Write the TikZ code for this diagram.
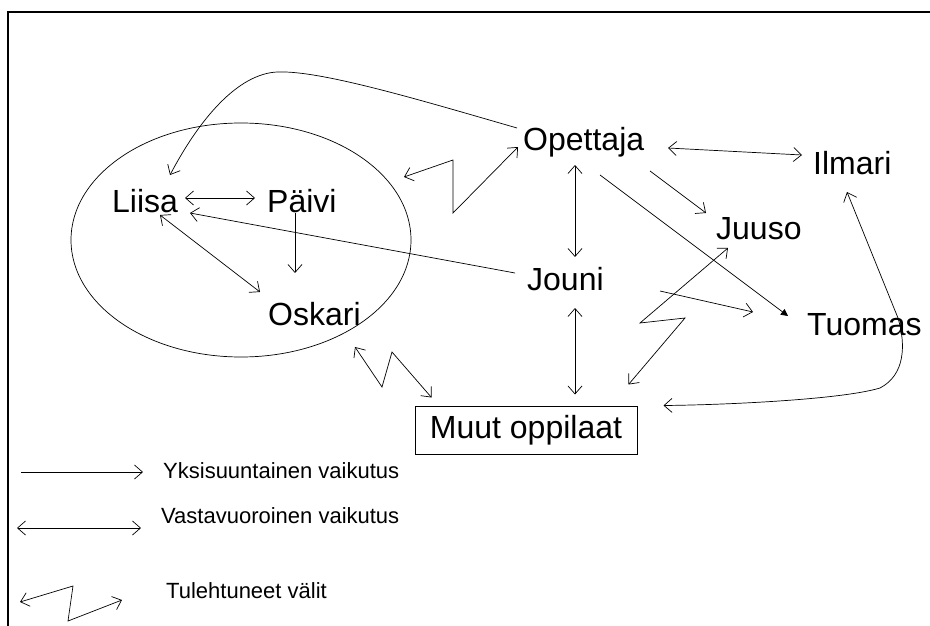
\documentclass[tikz,border=0pt]{standalone}
\usepackage{fontspec}
\setmainfont{Liberation Sans}
\usetikzlibrary{arrows.meta,calc}
\begin{document}
\begin{tikzpicture}[x=1pt,y=-1pt,
  lbl/.style={anchor=base west,inner sep=0pt,font=\fontsize{32}{38}\selectfont},
  leg/.style={anchor=base west,inner sep=0pt,font=\fontsize{22}{26}\selectfont},
  con/.style={line width=0.7pt},
  >={Straight Barb[length=8pt,width=14pt]}]
\useasboundingbox (0,0) rectangle (930,626);
% frame
\draw[line width=1.4pt] (930,12) -- (8,12) -- (8,626);
% group ellipse
\draw[con] (241,240) ellipse [x radius=170, y radius=117];
% nodes
\node[lbl] (op) at (523,150) {Opettaja};
\node[lbl] (il) at (813,175) {Ilmari};
\node[lbl] (ju) at (716,239) {Juuso};
\node[lbl] (jo) at (527,290) {Jouni};
\node[lbl] (tu) at (807,335) {Tuomas};
\node[lbl] (li) at (112,212) {Liisa};
\node[lbl] (pa) at (267,212) {Päivi};
\node[lbl] (os) at (268,325) {Oskari};
\node[draw,line width=1pt,minimum width=222pt,minimum height=48pt,inner sep=0pt,
      font=\fontsize{32}{38}\selectfont] (mu) at (526,430) {Muut oppilaat};
% legend texts
\node[leg] (yk) at (163,478) {Yksisuuntainen vaikutus};
\node[leg] (va) at (161,523) {Vastavuoroinen vaikutus};
\node[leg] (tv) at (166,598) {Tulehtuneet välit};

% connectors
\draw[con,->] ($(op.base west)+(-6,-22)$) .. controls (420,100) and (320,70) .. (277,72)
   .. controls (238,74) and (200,118) .. ($(li.base west)+(58,-37)$);
\draw[con,<->] ($(li.base west)+(73,-14)$) -- ($(pa.base west)+(-12,-14)$);
\draw[con,->] ($(jo.base west)+(-12,-17)$) -- ($(li.base west)+(78,1)$);
\draw[con,<->] ($(li.base west)+(48,3)$) -- ($(os.base west)+(-8,-33)$);
\draw[con,->] ($(pa.base west)+(28,1)$) -- ($(os.base west)+(27,-52)$);
\draw[con,<->] ($(op.base west)+(-119,27)$) -- (453,160) -- (453,213) -- ($(op.base west)+(-5,-3)$);
\draw[con,<->] ($(op.base west)+(145,-2)$) -- ($(il.base west)+(-11,-20)$);
\draw[con,<->] ($(op.base west)+(52,15)$) -- ($(jo.base west)+(48,-33)$);
\draw[con,->] ($(op.base west)+(127,21)$) -- ($(ju.base west)+(-10,-26)$);
\draw[con,-{Triangle[length=7pt,width=7pt]}] ($(op.base west)+(77,25)$) -- ($(tu.base west)+(-19,-19)$);
\draw[con,->] ($(jo.base west)+(133,1)$) -- ($(tu.base west)+(-54,-23)$);
\draw[con,<->] ($(ju.base west)+(12,9)$) -- (640,323) -- (685,318) -- ($(mu.north east)+(-9,-21)$);
\draw[con,<->] ($(jo.base west)+(48,18)$) -- ($(mu.north)+(49,-11)$);
\draw[con,<->] ($(os.base west)+(87,22)$) -- (382,387) -- (392,352) -- ($(mu.north west)+(17,-8)$);
\draw[con,<->] ($(mu.north east)+(26,0)$) .. controls (720,405) and (840,400) .. (880,388)
   .. controls (905,375) and (906,345) .. (898,318) -- ($(il.base west)+(34,17)$);

% legend arrows
\draw[con,->] ($(yk.base west)+(-142,-6)$) -- ($(yk.base west)+(-20,-6)$);
\draw[con,<->] ($(va.base west)+(-144,5)$) -- ($(va.base west)+(-20,5)$);
\draw[con,<->] ($(tv.base west)+(-146,4)$) -- ($(tv.base west)+(-93,-12)$) -- ($(tv.base west)+(-98,23)$) -- ($(tv.base west)+(-44,2)$);
\end{tikzpicture}
\end{document}
